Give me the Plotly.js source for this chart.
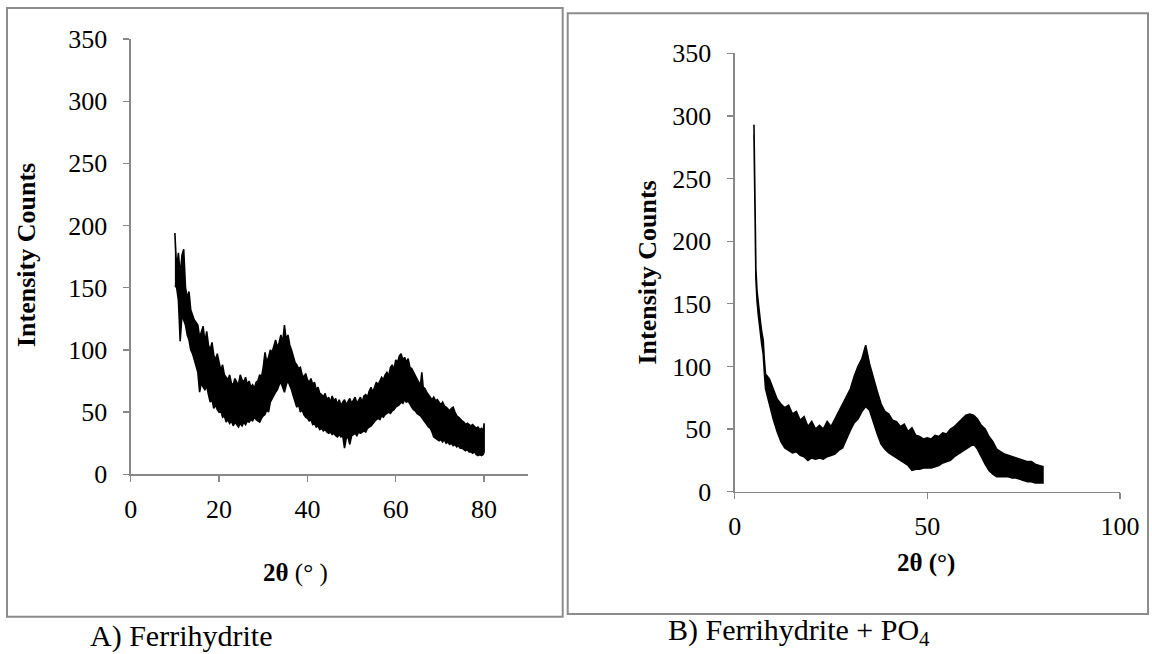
<!DOCTYPE html>
<html>
<head>
<meta charset="utf-8">
<script src="https://cdn.plot.ly/plotly-3.0.1.min.js"></script>
<style>html,body{margin:0;padding:0;background:#fff;}#chart{width:1152px;height:654px;}</style>
</head>
<body>
<div id="chart"></div>
<script>
// Panel A: Ferrihydrite — 2θ (°) positions with the upper / lower edge of the noisy XRD band
const A_twoTheta = [
  10.0,10.4,10.8,11.2,11.6,12.0,12.4,12.8,13.2,13.6,
  14.0,14.4,14.8,15.2,15.6,16.0,16.4,16.8,17.2,17.6,
  18.0,18.4,18.8,19.2,19.6,20.0,20.4,20.8,21.2,21.6,
  22.0,22.4,22.8,23.2,23.6,24.0,24.4,24.8,25.2,25.6,
  26.0,26.4,26.8,27.2,27.6,28.0,28.4,28.8,29.2,29.6,
  30.0,30.4,30.8,31.2,31.6,32.0,32.4,32.8,33.2,33.6,
  34.0,34.4,34.8,35.2,35.6,36.0,36.4,36.8,37.2,37.6,
  38.0,38.4,38.8,39.2,39.6,40.0,40.4,40.8,41.2,41.6,
  42.0,42.4,42.8,43.2,43.6,44.0,44.4,44.8,45.2,45.6,
  46.0,46.4,46.8,47.2,47.6,48.0,48.4,48.8,49.2,49.6,
  50.0,50.4,50.8,51.2,51.6,52.0,52.4,52.8,53.2,53.6,
  54.0,54.4,54.8,55.2,55.6,56.0,56.4,56.8,57.2,57.6,
  58.0,58.4,58.8,59.2,59.6,60.0,60.4,60.8,61.2,61.6,
  62.0,62.4,62.8,63.2,63.6,64.0,64.4,64.8,65.2,65.6,
  65.9,66.2,66.6,67.0,67.4,67.8,68.2,68.6,69.0,69.4,
  69.8,70.2,70.6,71.0,71.4,71.8,72.2,72.6,73.0,73.4,
  73.8,74.2,74.6,75.0,75.4,75.8,76.2,76.6,77.0,77.4,
  77.8,78.2,78.6,79.0,79.4,79.8,80.0];
const A_upper = [
  194,165,178,160,176,181,150,142,147,132,
  128,124,122,120,110,114,119,106,115,104,
  100,106,96,92,97,90,84,88,80,78,
  76,80,73,72,77,74,72,80,76,74,
  78,72,75,70,72,69,74,75,80,78,
  86,98,90,94,100,98,104,108,102,106,
  112,106,120,108,112,104,100,94,90,88,
  85,86,80,78,81,76,74,77,72,74,
  68,70,65,64,62,65,60,62,58,63,
  59,61,56,60,55,58,60,56,58,61,
  57,60,62,57,60,62,58,63,64,62,
  67,70,66,70,74,72,75,78,76,80,
  82,79,86,88,84,92,90,95,97,92,
  94,90,93,86,85,82,79,76,74,72,
  82,70,69,66,64,62,60,62,59,60,
  58,56,58,55,54,52,51,53,54,50,
  47,46,44,43,42,40,41,40,39,40,
  38,37,38,36,37,35,41];
const A_lower = [
  152,150,140,107,128,125,120,112,108,100,
  97,92,88,82,66,74,70,68,71,64,
  58,60,53,56,52,50,51,46,47,42,
  44,41,43,39,42,40,38,41,39,42,
  40,43,42,44,43,46,44,43,42,45,
  47,48,52,50,58,60,63,66,68,72,
  74,70,66,72,75,72,68,63,58,54,
  56,50,52,48,46,45,43,44,40,41,
  38,39,36,37,35,36,34,33,34,32,
  33,31,30,32,30,31,21,29,30,24,
  31,32,33,31,34,33,34,35,34,37,
  38,39,41,42,44,45,44,47,46,48,
  49,50,49,51,52,54,55,56,58,57,
  60,58,59,56,54,52,51,49,48,47,
  46,44,42,40,38,37,34,30,29,28,
  27,28,26,28,25,26,24,25,23,24,
  22,23,21,21,20,19,20,18,18,17,
  18,16,15,16,15,16,18];

// Panel B: Ferrihydrite + PO4
const B_twoTheta = [
  5.0,5.1,5.3,5.5,5.8,6.1,6.4,6.7,7.0,7.4,7.7,
  8,9,10,11,12,13,14,15,16,17,
  18,19,20,21,22,23,24,25,26,27,
  28,29,30,31,32,33,34,35,36,37,
  38,39,40,41,42,43,44,45,46,47,
  48,49,50,51,52,53,54,55,56,57,
  58,59,60,61,62,63,64,65,66,67,
  68,69,70,71,72,73,74,75,76,77,
  78,79,80];
const B_upper = [
  293,262,225,178,160,150,142,135,128,121,105,
  94,90,82,74,70,67,69,62,64,57,
  60,52,56,50,53,50,56,52,58,64,
  70,76,82,92,100,106,117,102,92,80,
  70,64,62,57,56,52,54,48,51,45,
  44,42,43,42,45,44,47,46,50,52,
  55,58,61,62,61,58,53,50,44,40,
  34,32,30,29,28,27,26,25,24,24,
  22,21,20];
const B_lower = [
  285,248,218,170,152,142,133,125,118,110,95,
  82,70,58,48,40,35,33,31,32,29,
  28,25,27,26,27,26,28,29,30,33,
  35,42,49,55,58,64,68,65,55,46,
  38,34,31,29,27,25,23,21,17,18,
  18,19,19,19,20,21,23,24,25,28,
  30,32,34,36,38,34,28,22,17,14,
  12,12,12,12,11,11,10,9,8,8,
  7,7,7];

// Axis ranges & tick steps
const A_xRange = [0, 90], A_xTick = 20;
const B_xRange = [0, 100], B_xTick = 50;
const yRange = [0, 350], yTick = 50;

const W = 1152, H = 654;
const px = v => v / W;
const py = v => 1 - v / H;

function band(xs, hi, lo) {
  return {x: xs.concat(xs.slice().reverse()), y: hi.concat(lo.slice().reverse())};
}
const bandA = band(A_twoTheta, A_upper, A_lower);
const bandB = band(B_twoTheta, B_upper, B_lower);

const traces = [
  {x: bandA.x, y: bandA.y, xaxis: 'x', yaxis: 'y', type: 'scatter', mode: 'lines',
   fill: 'toself', fillcolor: '#000', line: {color: '#000', width: 1.6}, hoverinfo: 'skip', showlegend: false},
  {x: bandB.x, y: bandB.y, xaxis: 'x2', yaxis: 'y2', type: 'scatter', mode: 'lines',
   fill: 'toself', fillcolor: '#000', line: {color: '#000', width: 1.6}, hoverinfo: 'skip', showlegend: false}
];

const font = {family: '"Liberation Serif", "Times New Roman", serif', size: 26, color: '#000'};
const axBase = {
  showline: true, linecolor: '#888', linewidth: 1.3,
  ticks: 'outside', ticklen: 6, tickcolor: '#888', tickwidth: 1.3,
  showgrid: false, zeroline: false, tickfont: font, fixedrange: true
};

const layout = {
  width: W, height: H,
  margin: {l: 0, r: 0, t: 0, b: 0},
  paper_bgcolor: '#fff', plot_bgcolor: 'rgba(0,0,0,0)',
  showlegend: false,
  font: font,
  xaxis: Object.assign({}, axBase, {domain: [px(130.7), px(528.3)], range: A_xRange, dtick: A_xTick, tick0: 0, anchor: 'y', ticklabelstandoff: 5}),
  yaxis: Object.assign({}, axBase, {domain: [py(474.3), py(39)], range: yRange, dtick: yTick, tick0: 0, anchor: 'x', ticklabelstandoff: 11}),
  xaxis2: Object.assign({}, axBase, {domain: [px(734.7), px(1120)], range: B_xRange, dtick: B_xTick, tick0: 0, anchor: 'y2', ticklabelstandoff: 5}),
  yaxis2: Object.assign({}, axBase, {domain: [py(491.7), py(53.3)], range: yRange, dtick: yTick, tick0: 0, anchor: 'x2', ticklabelstandoff: 11}),
  shapes: [
    {type: 'rect', xref: 'paper', yref: 'paper', x0: px(7), x1: px(562.7), y0: py(616.7), y1: py(8),
     line: {color: '#8c8c8c', width: 2}},
    {type: 'rect', xref: 'paper', yref: 'paper', x0: px(567.7), x1: px(1148), y0: py(614), y1: py(13.3),
     line: {color: '#8c8c8c', width: 2}}
  ],
  annotations: [
    {text: '<b>Intensity Counts</b>', xref: 'paper', yref: 'paper', x: px(26), y: py(255), textangle: -90,
     showarrow: false, xanchor: 'center', yanchor: 'middle', font: Object.assign({}, font, {size: 26})},
    {text: '<b>Intensity Counts</b>', xref: 'paper', yref: 'paper', x: px(647), y: py(272.5), textangle: -90,
     showarrow: false, xanchor: 'center', yanchor: 'middle', font: Object.assign({}, font, {size: 26})},
    {text: '<b>2θ</b> (° )', xref: 'paper', yref: 'paper', x: px(295), y: py(573),
     showarrow: false, xanchor: 'center', yanchor: 'middle', font: Object.assign({}, font, {size: 25})},
    {text: '<b>2θ (°)</b>', xref: 'paper', yref: 'paper', x: px(926), y: py(563),
     showarrow: false, xanchor: 'center', yanchor: 'middle', font: Object.assign({}, font, {size: 25})},
    {text: 'A) Ferrihydrite', xref: 'paper', yref: 'paper', x: px(180.5), y: py(636),
     showarrow: false, xanchor: 'center', yanchor: 'middle', font: Object.assign({}, font, {size: 30})},
    {text: 'B) Ferrihydrite + PO<sub>4</sub>', xref: 'paper', yref: 'paper', x: px(798.5), y: py(632),
     showarrow: false, xanchor: 'center', yanchor: 'middle', font: Object.assign({}, font, {size: 30})}
  ]
};

Plotly.newPlot('chart', traces, layout, {staticPlot: true, displayModeBar: false});
</script>
</body>
</html>
